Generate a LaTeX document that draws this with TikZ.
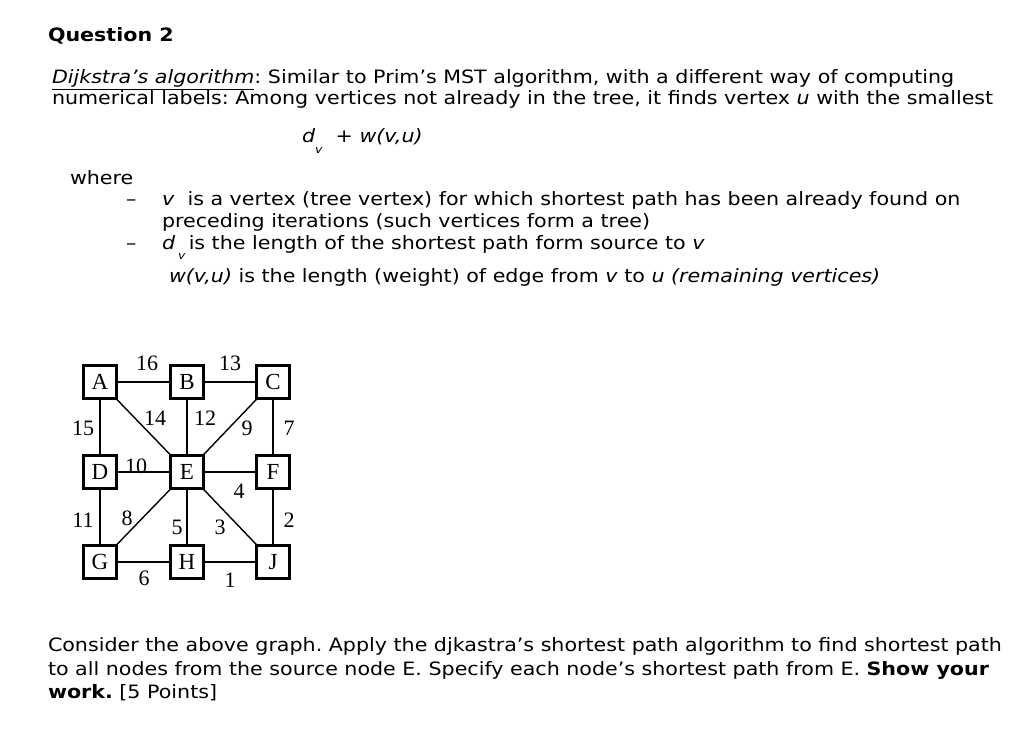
\documentclass[tikz,border=0pt]{standalone}
\usepackage{fontspec}
\setmainfont[FakeStretch=1.12]{DejaVu Sans}
\newfontfamily\graphfont{Liberation Serif}
\usetikzlibrary{positioning}
\frenchspacing

\begin{document}
\begin{tikzpicture}[
  x=1pt, y=-1pt,
  every node/.style={inner sep=0pt, outer sep=0pt},
  txt/.style={anchor=base west, font=\fontsize{18.4}{21}\selectfont},
  vertex/.style={
    draw,
    line width=2.4pt,
    minimum width=33pt,
    minimum height=33pt,
    font=\graphfont\fontsize{23}{23}\selectfont
  },
  weight/.style={font=\graphfont\fontsize{22}{22}\selectfont},
  edge/.style={line width=1.4pt}
]
  \useasboundingbox (0,0) rectangle (1024,741);

  % question text
  \node[txt, font=\bfseries\fontsize{18.4}{21}\selectfont] (title) at (48,42) {Question 2};
  \node[txt] (intro1) at (52,84) {\textit{\underline{Dijkstra’s algorithm}}: Similar to Prim’s MST algorithm, with a different way of computing};
  \node[txt] (intro2) at (52,105) {numerical labels: Among vertices not already in the tree, it finds vertex \textit{u} with the smallest};
  \node[txt] (formula) at (302,142) {\textit{d}\raisebox{-11pt}{\fontsize{11}{11}\selectfont\textit{v}}\ \ +\ \textit{w(v,u)}};
  \node[txt] (where) at (70,184) {where};
  \node[txt] (dash1) at (126,205) {–};
  \node[txt] (item1a) at (162,205) {\textit{v}\ \ is a vertex (tree vertex) for which shortest path has been already found on};
  \node[txt] (item1b) at (162,227) {preceding iterations (such vertices form a tree)};
  \node[txt] (dash2) at (126,249) {–};
  \node[txt] (item2) at (162,249) {\textit{d}\,\raisebox{-10pt}{\fontsize{11}{11}\selectfont\textit{v}}\,is the length of the shortest path form source to \textit{v}};
  \node[txt] (item3) at (169,282) {\textit{w(v,u)} is the length (weight) of edge from \textit{v} to \textit{u (remaining vertices)}};

  % graph
  \node[vertex] (A) at (100,382) {A};
  \node[vertex, right=54pt of A] (B) {B};
  \node[vertex, right=53pt of B] (C) {C};
  \node[vertex, below=57pt of A] (D) {D};
  \node[vertex, right=54pt of D] (E) {E};
  \node[vertex, right=53pt of E] (F) {F};
  \node[vertex, below=57pt of D] (G) {G};
  \node[vertex, right=54pt of G] (H) {H};
  \node[vertex, right=53pt of H] (J) {J};

  \draw[edge] (A) -- (B);
  \draw[edge] (B) -- (C);
  \draw[edge] (A) -- (D);
  \draw[edge] (A) -- (E);
  \draw[edge] (B) -- (E);
  \draw[edge] (C) -- (E);
  \draw[edge] (C) -- (F);
  \draw[edge] (D) -- (E);
  \draw[edge] (E) -- (F);
  \draw[edge] (D) -- (G);
  \draw[edge] (E) -- (G);
  \draw[edge] (E) -- (H);
  \draw[edge] (E) -- (J);
  \draw[edge] (F) -- (J);
  \draw[edge] (G) -- (H);
  \draw[edge] (H) -- (J);

  % weights
  \node[weight] (wAB) at (147,363) {16};
  \node[weight] (wBC) at (230,363) {13};
  \node[weight] (wAD) at (83,428) {15};
  \node[weight] (wAE) at (155,418) {14};
  \node[weight] (wBE) at (205,418) {12};
  \node[weight] (wCE) at (247,428) {9};
  \node[weight] (wCF) at (289,428) {7};
  \node[weight] (wDE) at (136,466) {10};
  \node[weight] (wEF) at (239,491) {4};
  \node[weight] (wDG) at (83,520) {11};
  \node[weight] (wEG) at (127,518) {8};
  \node[weight] (wEH) at (177,527) {5};
  \node[weight] (wEJ) at (220,527) {3};
  \node[weight] (wFJ) at (289,520) {2};
  \node[weight] (wGH) at (144,578) {6};
  \node[weight] (wHJ) at (230,580) {1};

  % task text
  \node[txt] (task1) at (48,651) {Consider the above graph. Apply the djkastra’s shortest path algorithm to find shortest path};
  \node[txt] (task2) at (48,675) {to all nodes from the source node E. Specify each node’s shortest path from E. \textbf{Show your}};
  \node[txt] (task3) at (48,698) {\textbf{work.} [5 Points]};
\end{tikzpicture}
\end{document}
